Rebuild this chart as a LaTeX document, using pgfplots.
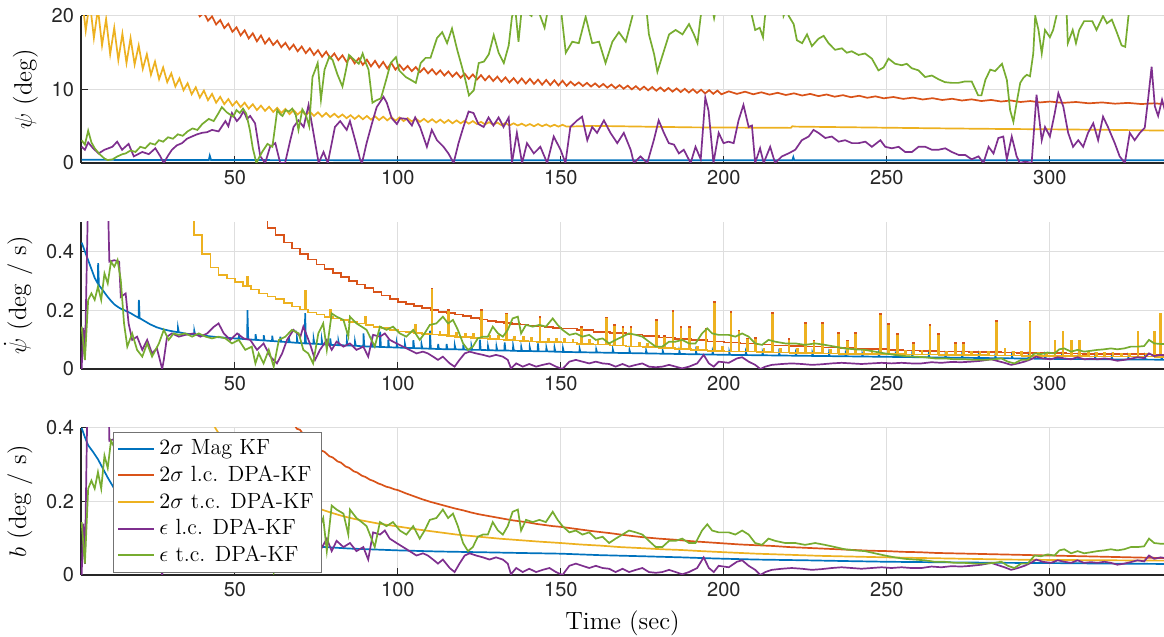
\documentclass[border=0pt]{standalone}
\usepackage{fontspec}
\usepackage{pgfplots}
\usepackage{pgfplotstable}
\pgfplotsset{compat=1.18}
\newfontfamily\heros{TeX Gyre Heros}
\definecolor{mblue}{rgb}{0,0.447,0.741}
\definecolor{morange}{rgb}{0.85,0.325,0.098}
\definecolor{myellow}{rgb}{0.929,0.694,0.125}
\definecolor{mpurple}{rgb}{0.494,0.184,0.556}
\definecolor{mgreen}{rgb}{0.466,0.674,0.188}

\pgfplotstableread{
x y
3 0.144
4 0.031
5 0.235
6 0.257
7 0.235
8 0.28
9 0.235
10 0.325
11 0.291
12 0.365
13 0.348
14 0.371
15 0.303
16 0.155
17 0.076
18.5 0.121
20 0.065
21.6 0.042
23.1 0.087
24.6 0.042
26.7 0.087
28.2 0.133
29.7 0.099
31.2 0.121
32.8 0.116
34.8 0.121
36.9 0.11
38.9 0.121
41 0.11
43 0.104
45 0.11
47.1 0.104
49.1 0.087
51.2 0.099
53.2 0.065
55.2 0.076
56.3 0.019
57.3 0.053
58.8 0.019
60.4 0.065
61.9 0.008
63.5 0.099
65.5 0.11
67.5 0.133
69.6 0.121
71 0.065
72.5 0.053
74 0.019
75.6 0.121
77.1 0.155
78.2 0.065
79.7 0.189
81.2 0.178
83.3 0.167
84.8 0.11
85.3 0.178
87.3 0.155
88.9 0.144
90.4 0.133
91.9 0.099
92.9 0.076
94.5 0.144
96.5 0.133
98.5 0.144
100.6 0.121
102.6 0.11
104.7 0.133
106.7 0.099
108.2 0.121
109.8 0.15
111.8 0.155
113.8 0.178
115.4 0.155
116.9 0.167
118.4 0.133
120 0.087
121.5 0.065
123 0.076
124.5 0.104
126.1 0.11
127.6 0.11
129.1 0.144
130.7 0.121
132.2 0.11
133.7 0.133
135.2 0.172
136.8 0.178
137.8 0.121
139.3 0.15
141.4 0.144
143.4 0.15
145.4 0.144
147.5 0.172
149 0.15
150.5 0.133
152.6 0.116
154.6 0.121
156.6 0.11
158.7 0.116
160.7 0.099
162.8 0.104
164.8 0.087
166.8 0.099
168.9 0.11
170.9 0.121
173 0.116
175 0.11
177 0.093
179.1 0.076
181.1 0.076
183.2 0.093
185.2 0.093
187.2 0.099
189.3 0.087
191.3 0.087
193.3 0.121
194.9 0.138
196.4 0.121
198.4 0.116
201.5 0.116
203.5 0.11
205.6 0.121
207.6 0.11
209.6 0.087
211.7 0.082
213.7 0.099
215.7 0.093
218.8 0.087
221.9 0.087
224.9 0.082
228 0.087
231 0.082
234.1 0.076
237.1 0.07
240.2 0.067
243.3 0.065
246.3 0.059
249.4 0.053
252.4 0.048
255.5 0.044
258.6 0.042
261.6 0.04
264.7 0.036
267.7 0.036
270.8 0.033
273.9 0.033
276.9 0.031
280 0.031
283 0.033
285.1 0.036
287.1 0.025
289.1 0.019
291.2 0.031
293.2 0.031
295.3 0.053
297.3 0.051
299.3 0.056
301.4 0.053
302.9 0.067
304.4 0.07
306.5 0.059
308.5 0.065
310.5 0.059
312.6 0.062
314.6 0.065
316.7 0.067
318.7 0.07
320.7 0.067
322.8 0.07
324.8 0.076
326.9 0.076
328.9 0.078
330.4 0.099
332 0.087
334 0.085
336 0.085
}\gmtab

\pgfplotstableread{
x y
3 0
3.5 0.14
4 0.03
5 0.6
6 0.6
8 0.55
10 0.6
11 0.6
11.5 0.365
13 0.37
14.5 0.365
15 0.245
16.5 0.257
17.4 0.155
18.5 0.099
20 0.11
21.6 0.065
23.1 0.099
24.6 0.053
26.1 0.07
27.7 0
28.2 0.031
29.2 0.11
30.7 0.121
32.8 0.11
34.8 0.116
37.4 0.121
39.4 0.11
41.5 0.121
43.5 0.143
45 0.155
46.6 0.121
48.6 0.099
50.7 0.121
52.7 0.104
54.7 0.099
56.8 0.065
58.8 0.087
60.9 0.042
62.9 0.019
64.5 0.053
66 0.099
68 0.133
70.1 0.11
71 0.144
73 0.087
74.6 0.031
76.1 0.065
78.2 0.099
79.7 0.065
81.2 0.093
83.3 0.076
85.3 0.087
87.3 0.065
89.4 0.076
90.9 0.042
92.4 0.116
94.5 0.11
96 0.121
97.5 0.099
99.6 0.087
101.6 0.076
103.6 0.065
105.7 0.053
107.7 0.059
109.2 0.053
110.8 0.042
112.3 0.031
113.8 0.042
115.9 0.019
117.4 0.008
118.9 0.031
120.5 0.053
122 0.059
124 0.053
126.1 0.048
128.1 0.042
130.1 0.048
132.2 0.042
133.7 0.031
134.7 0.002
136.3 0.019
138.3 0.008
140.3 0.017
142.4 0.008
144.4 0.014
146.5 0.019
148.5 0.008
150.5 0
152.6 0.025
154.6 0.031
156.6 0.025
158.7 0.019
160.7 0.025
162.8 0.019
164.8 0.017
166.8 0.008
168.9 0.017
170.9 0.008
173 0.014
175 0.019
177 0.008
179.1 0.006
181.1 0.008
183.2 0.014
185.2 0.008
187.2 0.002
189.3 0.008
191.8 0.019
193.8 0.048
195.4 0.019
196.9 0.008
198.4 0.025
201.5 0.021
204 0.036
205.6 0.04
207.6 0.025
209.6 0.014
211.2 0
212.7 0.008
214.7 0.014
217.8 0.017
220.8 0.019
223.9 0.017
227 0.014
230 0.016
233.1 0.019
236.1 0.021
239.2 0.019
242.2 0.017
245.3 0.019
248.4 0.021
251.4 0.019
254.5 0.021
257.5 0.019
260.6 0.019
263.7 0.023
266.7 0.021
269.8 0.024
272.8 0.023
275.9 0.025
279 0.028
282 0.033
284 0.027
286.1 0.021
288.1 0.014
290.2 0.019
292.2 0.025
294.2 0.033
295.8 0.042
297.8 0.036
300.3 0.033
302.4 0.04
304.4 0.036
306.5 0.033
308.5 0.04
310.5 0.033
312.6 0.035
314.6 0.033
316.7 0.036
318.7 0.033
320.7 0.028
322.8 0.031
324.8 0.035
326.9 0.04
328.9 0.037
330.4 0.053
332 0.044
334 0.048
336 0.045
}\pmtab

\pgfplotsset{
  mystyle/.style={
    scale only axis, width=541.5pt, height=73.5pt,
    xmin=2.8, xmax=335,
    anchor=south west,
    axis x line*=bottom, axis y line*=left,
    axis line style={-, draw=black!85, line width=0.6pt},
    tick align=inside, major tick length=3.5pt,
    tick style={draw=black!85, line width=0.5pt},
    xtick={50,100,...,300},
    grid=major, major grid style={draw=black!13, line width=0.5pt},
    ticklabel style={font=\heros\fontsize{10}{12}\selectfont, text=black!85},
    /pgf/number format/assume math mode=true,
    label style={font=\fontsize{12.5}{15}\selectfont},
    every axis plot/.append style={line width=0.85pt},
    clip=true,
  }
}

\begin{document}
\begin{tikzpicture}
\useasboundingbox (0,0) rectangle (582pt,318.5pt);

% ---------------- top: psi ----------------
\begin{axis}[mystyle, at={(40.5pt,237pt)}, ymin=0, ymax=20, ytick={0,10,20},
  ylabel={$\psi$ (deg)}]
\addplot[mblue] coordinates {(3,0.45) (20,0.4) (42,0.4) (42.3,1.0) (42.7,0.4) (100,0.38) (160,0.37) (221,0.37) (221.3,0.8) (221.6,0.37) (280,0.36) (336,0.36)};
\addplot[morange] coordinates {
(35.5,21.65) (36.75,20.55) (38,21.05) (39.25,19.95) (40.5,20.45) (41.75,19.35) (43,19.95) (44.25,18.85)
(45.5,19.45) (46.75,18.35) (48,18.95) (49.25,17.85) (50.5,18.45) (51.75,17.35) (53,18.05) (54.25,16.95)
(55.5,17.65) (56.75,16.55) (58,17.35) (59.25,16.25) (60.5,16.95) (61.75,16.05) (63,16.65) (64.25,15.75)
(65.5,16.35) (66.75,15.45) (68,16.1) (69.25,15.2) (70.5,15.85) (71.75,14.95) (73,15.6) (74.25,14.7)
(75.5,15.35) (76.75,14.45) (78,15.15) (79.25,14.25) (80.5,14.9) (81.75,14.0) (83,14.65) (84.25,13.75)
(85.5,14.45) (86.75,13.55) (88,14.25) (89.25,13.35) (90.5,14.05) (91.75,13.15) (93,13.9) (94.25,13.0)
(95.5,13.75) (96.75,12.85) (98,13.6) (99.25,12.7) (100.5,13.35) (101.75,12.65) (103,13.2) (104.25,12.5)
(105.5,13.05) (106.75,12.35) (108,12.9) (109.25,12.2) (110.5,12.75) (111.75,12.05) (113,12.6) (114.25,11.9)
(115.5,12.45) (116.75,11.75) (118,12.3) (119.25,11.6) (120.5,12.15) (121.75,11.45) (123,12.05) (124.25,11.35)
(125.5,11.95) (126.75,11.25) (128,11.85) (129.25,11.15) (130.5,11.75) (131.75,11.05) (133,11.65) (134.25,10.95)
(135.5,11.55) (136.75,10.85) (138,11.5) (139.25,10.8) (140.5,11.45) (141.75,10.75) (143,11.35) (144.25,10.65)
(145.5,11.3) (146.75,10.6) (148,11.25) (149.25,10.55) (150.5,11.2) (151.75,10.5)
(153,11.05) (154.25,10.55) (155.5,10.97) (156.75,10.47) (158,10.9) (159.25,10.4) (160.5,10.83) (161.75,10.33)
(163,10.75) (164.25,10.25) (165.5,10.67) (166.75,10.17) (168,10.6) (169.25,10.1) (170.5,10.52) (171.75,10.02)
(173,10.45) (174.25,9.95) (175.5,10.39) (176.75,9.89) (178,10.33) (179.25,9.83) (180.5,10.27) (181.75,9.77)
(183,10.21) (184.25,9.71) (185.5,10.15) (186.75,9.65) (188,10.09) (189.25,9.59) (190.5,10.03) (191.75,9.53)
(193,9.97) (194.25,9.47) (195.5,9.91) (196.75,9.41) (198,9.85) (199.25,9.35)
(201.5,9.75) (204,9.4) (206.5,9.7) (209,9.35) (211.5,9.62) (214,9.3) (216.5,9.55) (219,9.25) (221.5,9.48) (224,9.18)
(226.5,9.4) (229,9.1) (231.5,9.32) (234,9.02) (236.5,9.23) (239,8.95) (241.5,9.15) (244,8.87) (246.5,9.07) (249,8.8)
(252,8.98) (255,8.72) (258,8.9) (261,8.64) (264,8.82) (267,8.57) (270,8.74) (273,8.5) (276,8.66) (279,8.43)
(282,8.58) (285,8.36) (288,8.5) (291,8.3) (294,8.43) (297,8.24) (300,8.36) (304,8.18) (308,8.3) (312,8.12)
(316,8.24) (320,8.07) (324,8.18) (328,8.02) (332,8.12) (336,7.98)};
\addplot[myellow] coordinates {
(3,23.0) (4.25,18.0) (5.5,22.0) (6.75,17.0) (8,21.0) (9.25,16.0) (10.5,19.6) (11.75,14.8)
(13,18.4) (14.25,14.0) (15.5,17.6) (16.75,13.6) (18,17.0) (19.25,13.4) (20.5,16.0) (21.75,12.8)
(23,14.8) (24.25,12.0) (25.5,13.8) (26.75,11.4) (28,13.0) (29.25,11.0) (30.5,12.2) (31.75,10.4)
(33,11.5) (34.25,9.9) (35.5,10.85) (36.75,9.35) (38,10.3) (39.25,8.9) (40.5,9.85) (41.75,8.55)
(43,9.4) (44.25,8.2) (45.5,9.0) (46.75,8.0) (48,8.7) (49.25,7.8) (50.5,8.4) (51.75,7.6)
(53,8.2) (54.25,7.4) (55.5,8.0) (56.75,7.2) (58,7.8) (59.25,7.1) (60.5,7.65) (61.75,6.95)
(63,7.5) (64.25,6.8) (65.5,7.35) (66.75,6.65) (68,7.2) (69.25,6.6) (70.5,7.1) (71.75,6.5)
(73,7.0) (74.25,6.4) (75.5,6.9) (76.75,6.3) (78,6.8) (79.25,6.25) (80.5,6.7) (81.75,6.2)
(83,6.6) (84.25,6.1) (85.5,6.5) (86.75,6.0) (88,6.45) (89.25,5.95) (90.5,6.4) (91.75,5.9)
(93,6.35) (94.25,5.85) (95.5,6.3) (96.75,5.8) (98,6.25) (99.25,5.75) (100.5,6.2) (101.75,5.7)
(103,6.1) (104.25,5.65) (105.5,6.05) (106.75,5.6) (108,6.0) (109.25,5.55) (110.5,5.95) (111.75,5.5)
(113,5.9) (114.25,5.45) (115.5,5.85) (116.75,5.4) (118,5.8) (119.25,5.4) (120.5,5.75) (121.75,5.35)
(123,5.7) (124.25,5.3) (125.5,5.6) (126.75,5.25) (128,5.55) (129.25,5.2) (130.5,5.5) (131.75,5.15)
(133,5.45) (134.25,5.1) (135.5,5.4) (136.75,5.1) (138,5.35) (139.25,5.05) (140.5,5.3) (141.75,5.0)
(143,5.3) (144.25,5.0) (145.5,5.25) (146.75,4.95) (148,5.2) (149.25,4.95) (150.5,5.2) (151.75,4.95)
(160,5.05) (175,4.95) (190,4.85) (210,4.8) (220.5,4.78) (221,5.0) (222,4.95) (235,4.88) (250,4.8) (265,4.72) (280,4.65) (300,4.58) (320,4.5) (336,4.4)};
\addplot[mpurple] coordinates {
(3,2.2) (4,1.8) (5,2.8) (6.5,2.0) (8.2,1.3) (10,1.8) (12.4,2.2) (13.9,2.9) (15.4,1.8) (17.4,2.6) (19,0.9)
(21.6,1.5) (23.6,1.2) (25.6,2.0) (27,1.0) (28.2,0) (29.5,1.0) (30.7,1.8) (32.2,2.4) (33.8,2.7) (35.3,3.3)
(36.8,3.6) (38.4,3.9) (39.9,4.1) (41.5,4.2) (43,4.5) (45,4.3) (47.1,5.7) (48,5.0) (49.1,6.8) (50.6,5.7)
(51.6,6.2) (52.7,7.1) (53.7,6.0) (54.7,6.4) (56.2,5.4) (57.8,0.9) (59.3,0) (60.8,2.2) (62.4,2.7) (63.9,0)
(65.4,0) (67,3.1) (68,4.9) (69.5,5.8) (71.1,4.9) (72.6,7.9) (74.1,4.1) (75.7,0) (77.2,1.5) (78.5,0)
(80.7,4.9) (82.3,5.7) (84.3,4.5) (85.3,5.7) (86.9,3.1) (88.4,0.5) (89,0) (90.4,2.7) (92,5.3) (93.5,7.6)
(95.6,9.0) (96.6,8.2) (98.1,6.1) (99.7,5.3) (100.7,6.1) (102.7,6.0) (104.3,5.1) (105.3,6.2) (106.8,4.9)
(108.9,2.2) (110.4,4.5) (112,3.1) (114,2.2) (115.5,1.3) (117.1,0) (118.6,2.7) (120.1,4.9) (121.7,7.0)
(123.2,6.8) (124.7,5.3) (126.3,4.9) (127.8,6.2) (129.3,5.1) (130.9,6.2) (132.4,4.9) (134,6.2) (135,0)
(136.5,4.1) (138.1,0) (139.6,2.7) (141.7,1.3) (143.7,2.2) (145.8,0) (147.8,3.6) (149.9,1.8) (151.4,0)
(152.9,4.9) (155,5.8) (156.5,6.3) (158.1,3.1) (159.6,4.9) (161.1,4.1) (163.2,5.8) (165.2,4.1) (167.3,2.7)
(169.3,4.1) (171.4,1.8) (172.4,0) (174.4,0.9) (176.5,0) (178.5,3.1) (180,5.8) (181.6,4.1) (183.1,2.7)
(184.7,2.5) (186.2,1.3) (187.7,1.8) (189.8,0) (191.3,2.2) (192.9,0.5) (194.3,8.9) (195.3,7.1) (196.8,0)
(198.4,4.1) (199.9,2.7) (201.4,2.9) (203,2.7) (204.5,5.8) (206,7.9) (207.6,4.9) (208.6,5.1) (209.6,0)
(211.1,2.0) (212.2,0) (214.2,2.2) (215.7,0) (217.8,0.9) (219.8,1.3) (221.9,1.8) (223.9,3.1) (226,3.6)
(227.5,4.5) (229,4.1) (231.1,3.4) (233.1,3.6) (235.2,2.9) (237.2,3.1) (239.3,2.7) (241.3,2.7) (243.4,2.9)
(245.4,2.2) (248,3.1) (249.5,2.2) (251.5,2.0) (253.6,2.2) (255.6,1.5) (257.7,1.5) (259.7,2.2) (261.8,2.2)
(263.8,1.8) (265.8,1.8) (267.9,2.0) (269.9,1.5) (272,1.1) (274,1.1) (276,0.5) (278.1,0.9) (279.6,0)
(281.2,2.2) (282.7,1.3) (284.2,3.4) (285.7,3.6) (286.8,0.5) (288.3,3.6) (289.8,0.9) (290.8,0) (292.4,0.2)
(294.4,0) (295.9,9.3) (297.5,3.1) (298.5,4.9) (300,3.6) (301.5,6.8) (302.6,9.5) (304.1,7.7) (305.6,4.1)
(307.1,2.2) (308.7,3.1) (310.2,2.2) (311.7,4.1) (313.3,5.4) (314.8,3.1) (316.3,6.3) (317.8,4.9) (319.9,2.7)
(321.4,0.9) (323,0) (324.5,4.1) (326,3.1) (327.6,4.1) (329.1,4.8) (330.1,8.6) (331.2,13.1) (332.2,7.7)
(333.2,6.4) (334.4,8.6) (336,6)};
\addplot[mgreen] coordinates {
(3,3.1) (4,2.5) (5,4.4) (6,2.8) (7,2.0) (8.5,1.2) (10,0.6) (11,0.4) (12.5,0.5) (14,0.9) (15.5,1.2) (16.5,1.3)
(18,1.7) (19.5,1.5) (21,2.2) (22.5,2.0) (24,2.7) (25.5,2.5) (26.7,3.1) (28,2.9) (29.5,3.5) (31,3.3) (32.5,3.9)
(34,3.7) (35.5,4.3) (37,4.7) (38.5,4.5) (40,5.3) (42,6.0) (43.5,5.7) (45,6.8) (46,7.6) (47.5,6.9) (49.5,6.3)
(50.5,7.2) (51.5,6.8) (52.5,7.4) (53.5,6.7) (54.6,4.5) (55.5,2.0) (56.6,0.0) (57.5,0.8) (58.5,1.6) (60,2.6)
(61.5,2.2) (62.2,4.5) (63,7.2) (64,6.6) (64.6,6.4) (65.6,7.2) (66.6,7.0) (67.6,7.4) (68.7,6.5) (69.5,4.5)
(70.7,7.3) (71.8,6.5) (72.8,5.0) (73.8,11.7) (74.5,12.5) (75.4,13.6) (76.4,8.6) (77.5,12.7) (79,14.5) (80,14.0)
(81.5,12.0) (83,10.4) (84,12.5) (85,14.7) (86.7,14.0) (88,13.5) (89.2,14.9) (90,13.8) (91,12.7) (92.2,8.2)
(93.3,8.5) (94.8,8.8) (96.4,11.3) (97.8,13.6) (99.4,14.4) (100.4,12.6) (102.4,11.7) (104,11.3) (105.5,10.9)
(107,13.6) (108.5,14.3) (110,14.3) (112,17.0) (113.6,17.8) (115.1,16.3) (116.6,18.3) (118.2,15.4) (119.7,13.0)
(120.7,11.3) (121.8,9.2) (123.3,9.9) (124.8,13.6) (126.4,13.8) (127.9,14.8) (129.4,17.4) (130.9,15.0)
(132.5,13.6) (134,16.0) (135,19.9) (136,21) (137,16.5) (138,21) (141,20) (142,22) (145,18.4) (146.5,22)
(150,21) (151.5,15.0) (153.5,16.5) (155.5,16.3) (157.6,19.9) (159.6,16.3) (161.7,16.5) (163.7,13.6)
(165.8,16.5) (167.8,17.8) (169.9,16.5) (171.9,19.9) (173,22) (176,22) (177,17.5) (178.6,14.8) (179.6,12.4)
(181,14.4) (183.2,17.5) (185.2,18.1) (187.3,17.5) (189.3,18.9) (190.8,17.5) (191.9,16.3) (192.9,20)
(193.8,22) (196,22) (197,19.7) (198,22) (208,22) (208.6,20) (209.6,18.1) (211,18.4) (212,17.1) (212.6,19.9)
(213.7,22) (217.8,22) (218.3,20) (219.2,21) (219.9,20) (221.4,18.9) (222.4,16.7) (224,16.3) (225.5,17.5)
(227,15.9) (229,16.9) (230.6,17.3) (232.1,16.3) (234.1,15.4) (236.2,15.6) (237.7,15.0) (239.2,15.2)
(241.3,14.7) (243.3,14.9) (245.4,14.2) (247.4,12.6) (249,13.0) (250.5,14.2) (252.5,13.5) (254.6,13.3)
(256.1,13.5) (257.6,12.9) (259.7,12.6) (261.7,11.7) (263.8,11.9) (265.8,11.4) (267.8,11.0) (269.9,10.9)
(271.9,10.9) (274,11.1) (276,11.1) (278,9.2) (279,9.2) (280.2,11.3) (281.7,12.7) (283.2,12.5) (285.3,13.5)
(286.8,11.3) (287.8,7.2) (288.8,5.6) (289.8,8.2) (290.9,10.9) (291.9,11.6) (292.9,12.0) (293.9,11.8)
(294.9,14.9) (295.5,20) (296.5,18.1) (297.5,14.9) (298.5,18.1) (300,17.1) (301,18.1) (302,20) (303,22)
(305,22) (305.5,16.3) (307,18.1) (308,16.3) (309,18.1) (310.5,19.3) (313,19.3) (314.3,18.1) (316.3,20)
(317.5,19) (319,19.5) (320.5,17.8) (322,16.0) (323.1,15.8) (324.1,20) (325,22) (336,22)};
\end{axis}

% ---------------- middle: psi dot ----------------
\begin{axis}[mystyle, at={(40.5pt,134pt)}, ymin=0, ymax=0.5, ytick={0,0.2,0.4},
  ylabel={$\dot{\psi}$ (deg / s)}]
\addplot[mblue] coordinates {
(3,0.43) (4,0.4) (5,0.37) (6,0.34) (7,0.31) (8,0.29) (8.05,0.36) (8.3,0.285) (9,0.275) (10,0.26) (11,0.245)
(12,0.232) (13,0.22) (14,0.212) (15,0.205) (16.5,0.198) (18,0.19) (19.5,0.18) (20.5,0.174) (20.55,0.235)
(20.8,0.173) (22,0.165) (24,0.152) (26,0.142) (28,0.135) (30,0.13) (32.5,0.125) (32.55,0.14) (32.8,0.125)
(35,0.12) (37.5,0.117) (37.55,0.13) (37.8,0.117) (40,0.114) (42.5,0.111) (45,0.108) (47.5,0.106) (50,0.104)
(51.2,0.103) (51.25,0.12) (51.5,0.103) (53.8,0.101) (53.85,0.2) (54.1,0.101) (56.3,0.099) (56.35,0.118) (56.6,0.099)
(58.8,0.097) (58.85,0.115) (59.1,0.097) (61.4,0.095) (61.45,0.113) (61.7,0.095) (63.9,0.093) (63.95,0.11) (64.2,0.093)
(66.5,0.091) (66.55,0.108) (66.8,0.091) (69,0.089) (69.05,0.105) (69.3,0.089) (71.5,0.087) (71.55,0.19) (71.8,0.087)
(74.1,0.086) (74.15,0.102) (74.4,0.086) (76.6,0.084) (76.65,0.1) (76.9,0.084) (79.2,0.082) (79.25,0.104) (79.5,0.082)
(81.7,0.081) (81.75,0.095) (82,0.081) (84.3,0.08) (84.35,0.096) (84.6,0.08) (86.8,0.079) (86.85,0.093) (87.1,0.079)
(89.4,0.077) (89.45,0.121) (89.7,0.077) (91.9,0.076) (91.95,0.09) (92.2,0.076) (94.5,0.075) (94.55,0.127) (94.8,0.075)
(97,0.074) (97.05,0.1) (97.3,0.074) (99.6,0.073) (99.65,0.088) (99.9,0.073) (102.1,0.072) (102.15,0.086) (102.4,0.072)
(104.7,0.071) (104.75,0.098) (105,0.071) (107.2,0.07) (107.25,0.084) (107.5,0.07) (109.8,0.069) (109.85,0.13) (110.1,0.069)
(112.3,0.068) (112.35,0.085) (112.6,0.068) (114.9,0.067) (114.95,0.085) (115.2,0.067) (117.4,0.067) (117.45,0.08) (117.7,0.067)
(120,0.066) (120.05,0.083) (120.3,0.066) (122.5,0.065) (122.55,0.078) (122.8,0.065) (125.1,0.065) (125.15,0.1) (125.4,0.065)
(127.6,0.064) (127.65,0.077) (127.9,0.064) (130.2,0.063) (130.25,0.076) (130.5,0.063) (132.7,0.063) (132.75,0.09) (133,0.063)
(135.3,0.062) (135.35,0.078) (135.6,0.062) (137.8,0.061) (137.85,0.074) (138.1,0.061) (140.4,0.061) (140.45,0.074) (140.7,0.061)
(142.9,0.06) (142.95,0.087) (143.2,0.06) (145.5,0.06) (145.55,0.072) (145.8,0.06) (148,0.059) (148.05,0.072) (148.3,0.059)
(150.6,0.058) (150.65,0.07) (150.9,0.058) (155.7,0.057) (155.75,0.068) (156,0.057) (160.8,0.056) (160.85,0.066) (161.1,0.056)
(165.9,0.055) (165.95,0.066) (166.2,0.055) (171,0.054) (171.05,0.064) (171.3,0.054) (176.1,0.053) (176.15,0.063) (176.4,0.053)
(181.2,0.052) (181.25,0.062) (181.5,0.052) (186.3,0.051) (186.35,0.061) (186.6,0.051) (191.4,0.05) (191.45,0.06) (191.7,0.05)
(196.5,0.049) (196.55,0.059) (196.8,0.049) (201.6,0.048) (201.65,0.058) (201.9,0.048) (206.7,0.0473) (206.75,0.057) (207,0.0473)
(211.8,0.0466) (211.85,0.056) (212.1,0.0466) (216.9,0.0459) (216.95,0.055) (217.2,0.0459) (222,0.0452) (222.05,0.054) (222.3,0.0452)
(227.1,0.0445) (227.15,0.054) (227.4,0.0445) (232.2,0.0438) (232.25,0.053) (232.5,0.0438) (237.3,0.0431) (237.35,0.052) (237.6,0.0431)
(242.4,0.0424) (242.45,0.051) (242.7,0.0424) (247.5,0.0417) (247.55,0.051) (247.8,0.0417) (252.6,0.041) (252.65,0.05) (252.9,0.041)
(257.7,0.0403) (257.75,0.049) (258,0.0403) (262.8,0.0396) (262.85,0.049) (263.1,0.0396) (267.9,0.0389) (267.95,0.048) (268.2,0.0389)
(273,0.0382) (273.05,0.047) (273.3,0.0382) (278.1,0.0375) (278.15,0.047) (278.4,0.0375) (283.2,0.0368) (283.25,0.046) (283.5,0.0368)
(288.3,0.0361) (288.35,0.045) (288.6,0.0361) (293.4,0.0354) (293.45,0.045) (293.7,0.0354) (298.5,0.0347) (298.55,0.044) (298.8,0.0347)
(303.6,0.034) (303.65,0.043) (303.9,0.034) (308.7,0.0336) (308.75,0.043) (309,0.0336) (313.8,0.0332) (313.85,0.042) (314.1,0.0332)
(318.9,0.0328) (318.95,0.042) (319.2,0.0328) (324,0.0324) (324.05,0.041) (324.3,0.0324) (329.1,0.032) (329.15,0.041) (329.4,0.032)
(334.2,0.0316) (334.25,0.041) (334.5,0.0316) (336,0.0315)};
\addplot[morange, const plot] coordinates {
(57.5,0.51) (60,0.48) (62.5,0.455) (65,0.43) (67.5,0.41) (70,0.39) (72.5,0.372) (75,0.355) (77.5,0.341) (80,0.327)
(82.5,0.313) (85,0.3) (87.5,0.287) (90,0.275) (92.5,0.262) (95,0.25) (97.5,0.239) (100,0.228) (102.5,0.221) (105,0.214)
(107.5,0.207) (110,0.2) (110.3,0.274) (110.6,0.2) (112.5,0.195) (115,0.19) (115.4,0.2) (115.7,0.19) (117.5,0.185)
(120,0.18) (122.5,0.174) (125,0.168) (125.6,0.2) (125.9,0.168) (127.5,0.164) (130,0.16) (132.5,0.157) (133.2,0.189)
(133.5,0.157) (135,0.154) (137.5,0.151) (140,0.148) (142.5,0.145) (143.4,0.178) (143.7,0.145) (145,0.143) (147.5,0.14)
(150,0.138) (155,0.132) (156.1,0.144) (156.4,0.132) (160,0.127) (163.8,0.175) (164.1,0.127) (165,0.122) (166.3,0.15)
(166.6,0.122) (168.9,0.144) (169.2,0.122) (170,0.117) (171.4,0.144) (171.7,0.117) (175,0.112) (179.1,0.167) (179.4,0.112)
(180,0.107) (181.6,0.112) (181.9,0.107) (184.2,0.198) (184.5,0.107) (185,0.102) (186.7,0.144) (187,0.102) (189.3,0.144)
(189.6,0.102) (190,0.098) (194.4,0.138) (194.7,0.098) (195,0.094) (196.9,0.228) (197.2,0.094) (200,0.09) (202,0.193)
(202.3,0.09) (204.5,0.131) (204.8,0.09) (205,0.087) (207.1,0.104) (207.4,0.087) (209.6,0.105) (209.9,0.087) (210,0.083)
(214.7,0.191) (215,0.08) (219.8,0.101) (220.1,0.078) (224.9,0.157) (225.2,0.076) (227.5,0.097) (227.8,0.076) (230,0.156)
(230.3,0.073) (235.1,0.123) (235.4,0.071) (237.7,0.097) (238,0.071) (240.2,0.122) (240.5,0.069) (245,0.067) (247.9,0.188)
(248.2,0.067) (250.4,0.154) (250.7,0.065) (253,0.12) (253.3,0.065) (255,0.063) (258.1,0.089) (258.4,0.063) (260,0.062)
(263.1,0.15) (263.4,0.062) (265.7,0.118) (266,0.06) (270.8,0.088) (271.1,0.059) (273.3,0.088) (273.6,0.059) (275,0.058)
(280,0.057) (283.5,0.163) (283.8,0.057) (285,0.056) (286.1,0.07) (286.4,0.056) (290,0.055) (293.7,0.162) (294,0.055)
(300,0.054) (301.4,0.097) (301.7,0.054) (303.9,0.128) (304.2,0.054) (305,0.053) (306.5,0.097) (306.8,0.053) (309,0.097)
(309.3,0.053) (310,0.052) (315,0.051) (320,0.05) (325,0.05) (326.9,0.128) (327.2,0.05) (330,0.049) (331.9,0.128)
(332.2,0.049) (333.8,0.188) (334.1,0.048) (336,0.048)};
\addplot[myellow, const plot] coordinates {
(35,0.53) (37.5,0.455) (40,0.39) (42.5,0.345) (45,0.32) (47.5,0.308) (50,0.296) (52.5,0.282) (53.8,0.315) (54.1,0.282)
(55,0.27) (57.5,0.257) (60,0.247) (62.5,0.237) (65,0.225) (67.5,0.213) (70,0.202) (71.5,0.265) (71.8,0.202) (72.5,0.192)
(75,0.185) (77.5,0.178) (79.2,0.2) (79.5,0.178) (80,0.172) (82.5,0.166) (85,0.161) (87.5,0.155) (89.9,0.178) (90.2,0.15)
(92.5,0.144) (95,0.139) (97.5,0.133) (100,0.128) (102.5,0.125) (105,0.122) (105.2,0.15) (105.5,0.122) (107.5,0.12)
(110,0.117) (110.3,0.268) (110.6,0.117) (112.5,0.115) (112.8,0.127) (113.1,0.115) (115,0.112) (115.4,0.194) (115.7,0.112)
(117.5,0.11) (117.9,0.122) (118.2,0.11) (120,0.108) (120.5,0.12) (120.8,0.108) (122.5,0.106) (123,0.118) (123.3,0.106)
(125,0.104) (125.6,0.194) (125.9,0.104) (127.5,0.102) (128.1,0.114) (128.4,0.102) (130,0.1) (130.7,0.112) (131,0.1)
(132.5,0.099) (133.2,0.183) (133.5,0.099) (135,0.097) (135.7,0.109) (136,0.097) (137.5,0.096) (138.3,0.108) (138.6,0.096)
(140,0.094) (140.8,0.106) (141.1,0.094) (142.5,0.093) (143.4,0.172) (143.7,0.093) (145,0.092) (146,0.104) (146.3,0.092)
(147.5,0.091) (148.5,0.103) (148.8,0.091) (150,0.09) (151,0.102) (151.3,0.09) (153.6,0.1) (153.9,0.09) (155,0.086)
(156.1,0.138) (156.4,0.086) (158.7,0.098) (159,0.086) (160,0.083) (161.2,0.095) (161.5,0.083) (163.8,0.169) (164.1,0.083)
(165,0.08) (166.3,0.144) (166.6,0.08) (168.9,0.138) (169.2,0.08) (170,0.077) (171.4,0.138) (171.7,0.077) (174,0.089)
(174.3,0.077) (175,0.074) (176.5,0.086) (176.8,0.074) (179.1,0.161) (179.4,0.074) (180,0.071) (181.6,0.106) (181.9,0.071)
(184.2,0.192) (184.5,0.071) (185,0.068) (186.7,0.138) (187,0.068) (189.3,0.138) (189.6,0.068) (190,0.065) (191.8,0.077)
(192.1,0.065) (194.4,0.132) (194.7,0.065) (195,0.062) (196.9,0.222) (197.2,0.062) (199.5,0.074) (199.8,0.062) (200,0.06)
(202,0.187) (202.3,0.06) (204.5,0.125) (204.8,0.06) (205,0.059) (207.1,0.098) (207.4,0.059) (209.6,0.099) (209.9,0.059)
(210,0.058) (212.2,0.07) (212.5,0.058) (214.7,0.185) (215,0.056) (217.3,0.068) (217.6,0.056) (219.8,0.095) (220.1,0.055)
(222.4,0.067) (222.7,0.055) (224.9,0.151) (225.2,0.054) (227.5,0.091) (227.8,0.054) (230,0.15) (230.3,0.053) (232.6,0.065)
(232.9,0.053) (235.1,0.117) (235.4,0.052) (237.7,0.091) (238,0.052) (240.2,0.116) (240.5,0.051) (242.8,0.063) (243.1,0.051)
(245.3,0.063) (245.6,0.051) (247.9,0.182) (248.2,0.051) (250.4,0.148) (250.7,0.05) (253,0.114) (253.3,0.05) (255.5,0.061)
(255.8,0.049) (258.1,0.083) (258.4,0.049) (260.6,0.061) (260.9,0.049) (263.1,0.144) (263.4,0.049) (265.7,0.112) (266,0.048)
(268.2,0.06) (268.5,0.048) (270.8,0.082) (271.1,0.047) (273.3,0.082) (273.6,0.047) (275.9,0.059) (276.2,0.047) (278.4,0.058)
(278.7,0.047) (281,0.058) (281.3,0.046) (283.5,0.157) (283.8,0.046) (286.1,0.068) (286.4,0.046) (288.6,0.057) (288.9,0.046)
(291.2,0.057) (291.5,0.045) (293.7,0.156) (294,0.045) (296.3,0.056) (296.6,0.045) (298.8,0.056) (299.1,0.045) (301.4,0.095)
(301.7,0.044) (303.9,0.126) (304.2,0.044) (306.5,0.095) (306.8,0.044) (309,0.095) (309.3,0.044) (311.6,0.055) (311.9,0.043)
(314.1,0.055) (314.4,0.043) (316.7,0.054) (317,0.043) (319.2,0.054) (319.5,0.043) (321.8,0.053) (322.1,0.042) (324.3,0.053)
(324.6,0.042) (326.9,0.126) (327.2,0.042) (329.4,0.052) (329.7,0.042) (331.9,0.126) (332.2,0.041) (333.8,0.186) (334.1,0.041)
(336,0.04)};
\addplot[mpurple] table {\pmtab};
\addplot[mgreen] table {\gmtab};
\end{axis}

% ---------------- bottom: b ----------------
\begin{axis}[mystyle, at={(40.5pt,31pt)}, ymin=0, ymax=0.4, ytick={0,0.2,0.4},
  ylabel={$b$ (deg / s)}, xlabel={Time (sec)},
  legend style={at={(0.0295,0.975)}, anchor=north west, draw=black!55, fill=white,
    font=\fontsize{11}{13}\selectfont, line width=0.5pt, inner xsep=2pt, inner ysep=1.8pt,
    row sep=0pt, cells={anchor=west}},
  legend image code/.code={\draw[#1, line width=1pt] (0pt,0pt) -- (18pt,0pt);}]
\addplot[mblue] coordinates {
(3,0.4) (4,0.375) (5,0.353) (6.5,0.335) (8,0.315) (9.5,0.29) (11,0.265) (13,0.235) (15,0.212) (17.5,0.19)
(20,0.175) (25,0.15) (30,0.133) (35,0.12) (40,0.11) (45,0.102) (50,0.096) (60,0.088) (70,0.081) (76,0.077)
(85,0.072) (100,0.067) (112,0.064) (125,0.062) (137,0.06) (150,0.058) (162,0.054) (175,0.051) (187,0.048)
(197,0.045) (210,0.042) (225,0.04) (237,0.038) (250,0.036) (262,0.035) (275,0.034) (287,0.033) (300,0.0325)
(318,0.031) (336,0.03)};
\addplot[morange] coordinates {
(67.5,0.42) (69,0.398) (70,0.395) (71.5,0.376) (72.5,0.372) (74,0.356) (75,0.352) (76.5,0.339) (77.5,0.335) (79,0.323)
(80,0.32) (81.5,0.309) (82.5,0.306) (84,0.295) (85,0.292) (86.5,0.282) (87.5,0.279) (89,0.27) (90,0.267) (91.5,0.259)
(92.5,0.256) (94,0.249) (95,0.246) (96.5,0.24) (97.5,0.238) (99,0.233) (100,0.231) (102.5,0.222) (105,0.214) (107.5,0.206)
(110,0.199) (112.5,0.193) (115,0.187) (117.5,0.181) (120,0.176) (122.5,0.17) (125,0.165) (127.5,0.161) (130,0.157)
(132.5,0.153) (135,0.149) (137.5,0.146) (140,0.143) (142.5,0.139) (145,0.136) (147.5,0.133) (150,0.131) (155,0.125)
(160,0.119) (165,0.114) (170,0.108) (175,0.103) (180,0.099) (185,0.096) (190,0.092) (195,0.089) (200,0.086) (205,0.083)
(210,0.081) (215,0.079) (220,0.076) (225,0.074) (230,0.072) (235,0.07) (240,0.068) (245,0.066) (250,0.065) (255,0.063)
(260,0.062) (265,0.06) (270,0.059) (275,0.058) (280,0.057) (285,0.056) (290,0.055) (295,0.054) (300,0.053) (310,0.051)
(320,0.049) (330,0.047) (336,0.046)};
\addplot[myellow] coordinates {
(43,0.42) (44,0.4) (46,0.372) (48,0.35) (50,0.33) (52.5,0.31) (55,0.29) (57.5,0.272) (60,0.255) (62.5,0.241) (65,0.228)
(67.5,0.216) (70,0.205) (73,0.192) (76,0.18) (79,0.171) (82,0.163) (85,0.156) (88,0.15) (91,0.145) (94,0.14) (97,0.136)
(100,0.132) (106,0.124) (112,0.117) (118,0.11) (125,0.104) (131,0.099) (137,0.095) (143,0.091) (150,0.087) (156,0.083)
(162,0.08) (168,0.076) (175,0.073) (181,0.07) (187,0.068) (193,0.065) (200,0.062) (210,0.058) (220,0.055) (230,0.052)
(240,0.05) (250,0.048) (262,0.046) (275,0.044) (287,0.042) (300,0.041) (318,0.04) (336,0.039)};
\addplot[mpurple] table {\pmtab};
\addplot[mgreen] table {\gmtab};
\legend{$2\sigma$ Mag KF, $2\sigma$ l.c. DPA-KF, $2\sigma$ t.c. DPA-KF, $\epsilon$ l.c. DPA-KF, $\epsilon$ t.c. DPA-KF}
\end{axis}
\end{tikzpicture}
\end{document}
